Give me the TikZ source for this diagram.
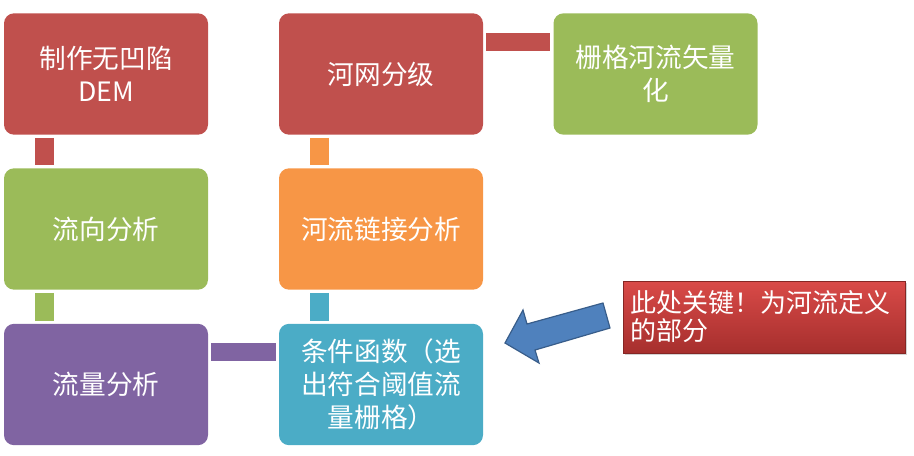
\documentclass[tikz,border=0pt]{standalone}
\usepackage{fontspec}
\setmainfont{Noto Sans CJK SC}
\usetikzlibrary{shadows,calc}
\definecolor{cRed}{HTML}{C0504D}
\definecolor{cGreen}{HTML}{9BBB59}
\definecolor{cOrange}{HTML}{F79646}
\definecolor{cCyan}{HTML}{4BACC6}
\definecolor{cPurple}{HTML}{8064A2}
\definecolor{cBlue}{HTML}{4F81BD}
\definecolor{cBlueDark}{HTML}{385D8A}
\definecolor{noteTop}{HTML}{D94A48}
\definecolor{noteBot}{HTML}{A62F2D}
\begin{document}
\begin{tikzpicture}[x=0.75pt,y=-0.75pt,
  box/.style={rounded corners=7.5pt, minimum width=153pt, minimum height=91pt,
    text=white, font=\fontsize{20}{24.5}\selectfont, align=center, inner sep=0pt},
  link/.style={line width=14.25pt},
  hlink/.style={line width=13.5pt}]
\useasboundingbox (0,0) rectangle (914,455);
% boxes
\node[box, fill=cRed]    (dem)   at (106,74)    {制作无凹陷\\DEM};
\node[box, fill=cRed]    (grade) at (381,74)    {河网分级};
\node[box, fill=cGreen]  (vec)   at (655.5,74)  {栅格河流矢量\\化};
\node[box, fill=cGreen]  (dir)   at (106,229)   {流向分析};
\node[box, fill=cOrange] (chain) at (381,229)   {河流链接分析};
\node[box, fill=cPurple] (acc)   at (106,384.5) {流量分析};
\node[box, fill=cCyan]   (cond)  at (381,384.5) {条件函数（选\\出符合阈值流\\量栅格）};
% connectors
\draw[link, cRed]    ($(dem.south west)+(40.5,3)$)   -- ($(dir.north west)+(40.5,-3)$);
\draw[link, cGreen]  ($(dir.south west)+(40.5,3)$)   -- ($(acc.north west)+(40.5,-3)$);
\draw[link, cOrange] ($(grade.south west)+(40.5,3)$) -- ($(chain.north west)+(40.5,-3)$);
\draw[link, cCyan]   ($(chain.south west)+(40.5,3)$) -- ($(cond.north west)+(40.5,-3)$);
\draw[hlink, cPurple] ($(acc.north east)+(3,28)$)    -- ($(cond.north west)+(-3,28)$);
\draw[hlink, cRed]    ($(grade.north east)+(3,29)$)  -- ($(vec.north west)+(-3,29)$);
% note box
\node[minimum width=211.5pt, minimum height=54pt, inner sep=0pt,
      top color=noteTop, bottom color=noteBot, draw=noteBot!80!black, line width=0.4pt,
      drop shadow={shadow xshift=1.5pt, shadow yshift=-1.5pt, opacity=0.35},
      text=white, font=\fontsize{19.5}{21}\selectfont, align=left, text width=200pt]
      (note) at (764,317) {此处关键！为河流定义\\的部分};
% block arrow
\filldraw[fill=cBlue, draw=cBlueDark, line width=0.9pt, line join=miter]
  (505,343) -- (523,310) -- (527,324) -- (603,303) -- (610,328) -- (535,350) -- (539,363) -- cycle;
\end{tikzpicture}
\end{document}
